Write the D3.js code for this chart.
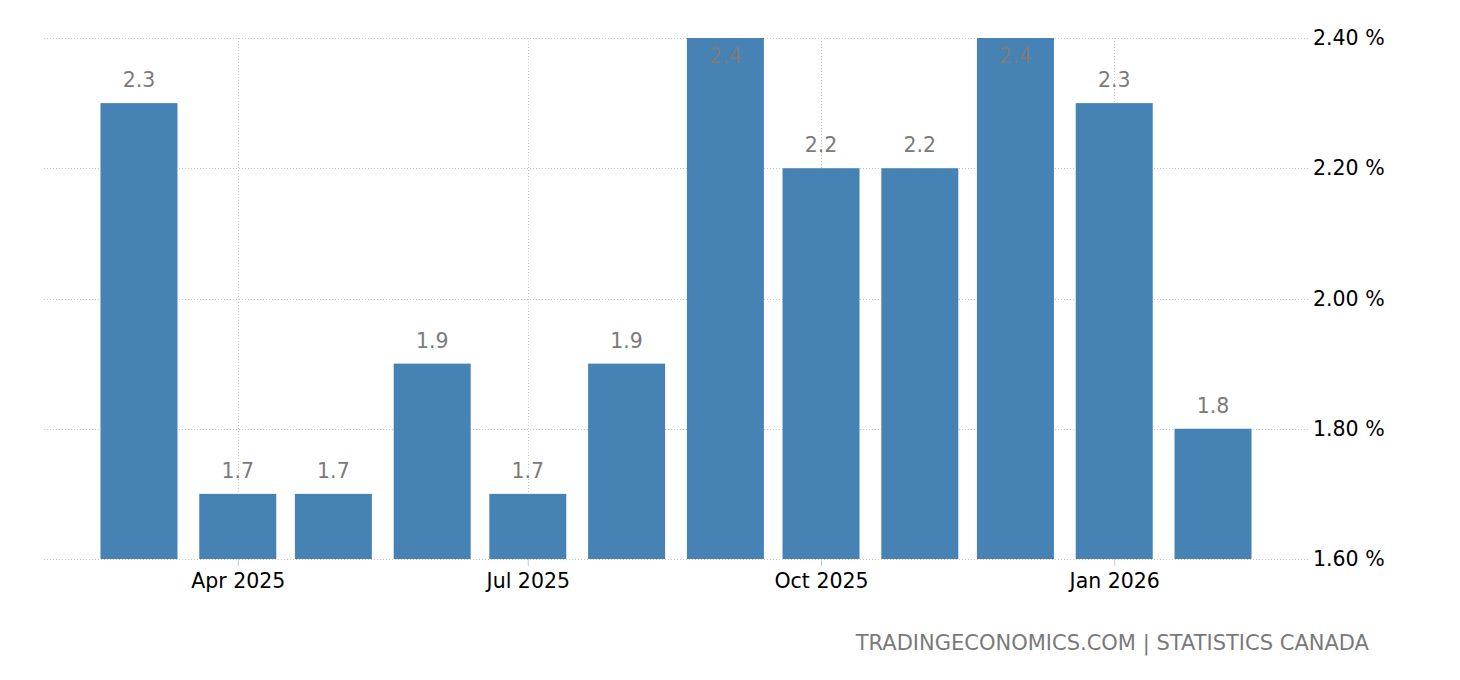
<!DOCTYPE html>
<html>
<head>
<meta charset="utf-8">
<script src="https://cdn.jsdelivr.net/npm/d3@7"></script>
<style>
html,body{margin:0;padding:0;background:#fff;}
svg{display:block;font-family:"DejaVu Sans",Verdana,sans-serif;}
</style>
</head>
<body>
<svg id="chart" width="1460" height="680"></svg>
<script>
const months = ["2025-03","2025-04","2025-05","2025-06","2025-07","2025-08","2025-09","2025-10","2025-11","2025-12","2026-01","2026-02"];
const values = [2.3,1.7,1.7,1.9,1.7,1.9,2.4,2.2,2.2,2.4,2.3,1.8];
const xTickDates = ["2025-04","2025-07","2025-10","2026-01"];
const xTickLabels = ["Apr 2025","Jul 2025","Oct 2025","Jan 2026"];
const yTicks = [1.6,1.8,2.0,2.2,2.4];
const source = "TRADINGECONOMICS.COM | STATISTICS CANADA";

(function(){
const parse = d3.utcParse("%Y-%m");
const dates = months.map(parse);
const day = 86400000;
const pad = 29.8 * day;

const pLeft = 44, pRight = 1308, pTop = 38, pBottom = 559;
const svg = d3.select("#chart");

const x = d3.scaleUtc()
  .domain([new Date(dates[0].getTime() - pad), new Date(dates[dates.length-1].getTime() + pad)])
  .range([pLeft, pRight]);
const y = d3.scaleLinear().domain([1.6, 2.4]).range([pBottom, pTop]);

const barW = 77;

// horizontal grid
svg.append("g").selectAll("line").data(yTicks).join("line")
  .attr("x1", pLeft).attr("x2", pRight)
  .attr("y1", d => Math.round(y(d)) + 0.5).attr("y2", d => Math.round(y(d)) + 0.5)
  .attr("stroke", "#c8c8c8").attr("stroke-width", 1).attr("stroke-dasharray", "1,2");

// vertical grid
const tickDates = xTickDates.map(parse);
svg.append("g").selectAll("line").data(tickDates).join("line")
  .attr("x1", d => Math.round(x(d)) + 0.5).attr("x2", d => Math.round(x(d)) + 0.5)
  .attr("y1", pTop).attr("y2", pBottom)
  .attr("stroke", "#c8c8c8").attr("stroke-width", 1).attr("stroke-dasharray", "1,2");

// bars
svg.append("g").selectAll("rect").data(values).join("rect")
  .attr("x", (d, i) => x(dates[i]) - barW / 2)
  .attr("width", barW)
  .attr("y", d => y(d))
  .attr("height", d => pBottom - y(d))
  .attr("fill", "#4682b4");

// value labels
svg.append("g").selectAll("text").data(values).join("text")
  .attr("x", (d, i) => x(dates[i]))
  .attr("y", d => Math.max(y(d) - 16, pTop + 25))
  .attr("text-anchor", "middle")
  .attr("font-size", 20.5)
  .attr("fill", "#7b7b7b")
  .text(d => d.toFixed(1));

// x axis
const xAxis = d3.axisBottom(x).tickValues(tickDates)
  .tickFormat((d, i) => xTickLabels[i]).tickSize(7).tickPadding(7);
const gx = svg.append("g").attr("transform", `translate(0,${pBottom})`).call(xAxis);
gx.select(".domain").remove();
gx.selectAll(".tick line").attr("stroke", "#c8c8c8");
gx.selectAll(".tick text").attr("font-size", 20.5).attr("fill", "#000")
  .attr("font-family", "DejaVu Sans, sans-serif");

// y axis on right
const yAxis = d3.axisRight(y).tickValues(yTicks)
  .tickFormat(d => d.toFixed(2) + " %").tickSize(0).tickPadding(5);
const gy = svg.append("g").attr("transform", `translate(${pRight},0)`).call(yAxis);
gy.select(".domain").remove();
gy.selectAll(".tick text").attr("font-size", 20.5).attr("fill", "#000")
  .attr("font-family", "DejaVu Sans, sans-serif");

// source
svg.append("text")
  .attr("x", 1369).attr("y", 650)
  .attr("text-anchor", "end")
  .attr("font-size", 21)
  .attr("fill", "#7a7a7a")
  .text(source);
})();
</script>
</body>
</html>
